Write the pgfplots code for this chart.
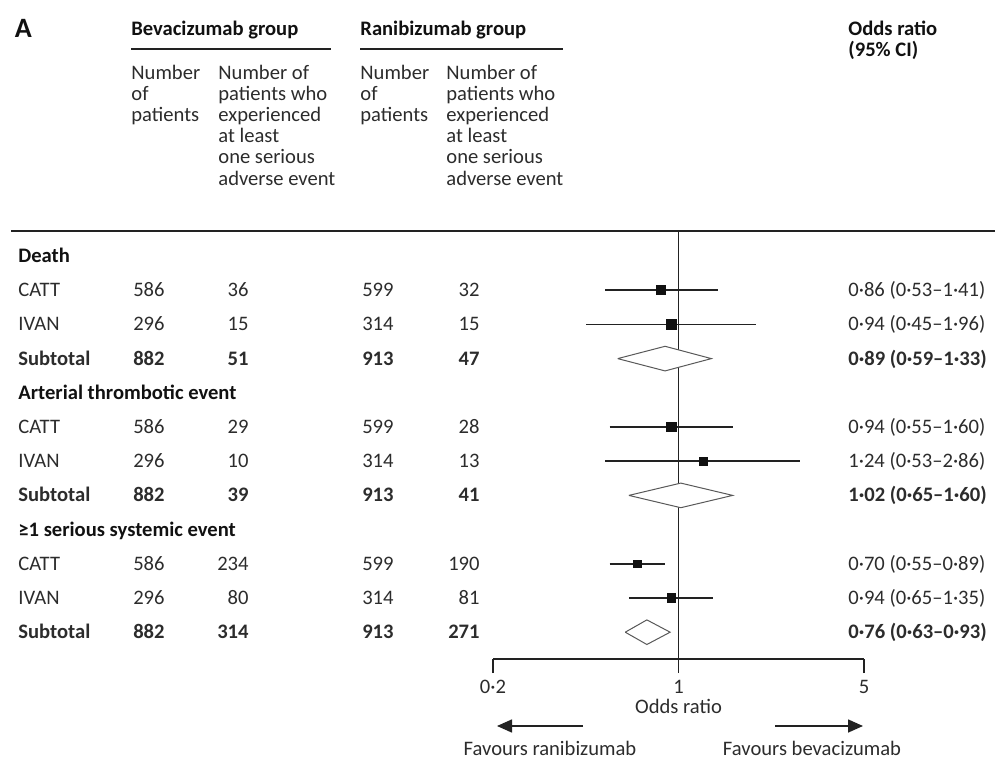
\documentclass[border=0pt]{standalone}
\usepackage{fontspec}
\setmainfont{Carlito}
\usepackage{pgfplots}
\usepackage{pgfplotstable}
\pgfplotsset{compat=1.18}
\usetikzlibrary{arrows.meta}
\definecolor{txt}{HTML}{2C2C2C}
\definecolor{bld}{HTML}{111111}
\definecolor{rule}{HTML}{222222}

% point estimates: or, lower, upper, row (y), half side of square (pt)
\pgfplotstableread{
or   lo   hi   y    s
0.86 0.53 1.41 -1   2.3
0.94 0.45 1.96 -2   2.3
0.94 0.55 1.60 -5   2.3
1.24 0.53 2.86 -6   2.0
0.70 0.55 0.89 -9   1.9
0.94 0.65 1.35 -10  2.1
}\studies

\begin{document}
\fontsize{10.3}{12}\selectfont
\begin{tikzpicture}
\begin{scope}[x=0.5pt,y=-0.5pt]
\useasboundingbox (0,0) rectangle (997,760);
% ---- header
\node[anchor=base west,inner sep=0,font=\fontsize{14}{16}\selectfont\bfseries,text=bld] at (14.5,37) {A};
\node[anchor=base west,inner sep=0,font=\bfseries,text=bld] at (131,35) {Bevacizumab group};
\node[anchor=base west,inner sep=0,font=\bfseries,text=bld] at (360,35) {Ranibizumab group};
\node[anchor=base west,inner sep=0,font=\bfseries,text=bld] at (848,35) {Odds ratio};
\node[anchor=base west,inner sep=0,font=\bfseries,text=bld] at (848,56.5) {(95\% CI)};
\draw[rule,line width=0.75pt] (131,49) -- (331,49);
\draw[rule,line width=0.75pt] (360,49) -- (563,49);
\foreach \t [count=\i from 0] in {Number,of,patients}{
  \node[anchor=base west,inner sep=0,text=txt] at (131,79+21.2*\i) {\t};
  \node[anchor=base west,inner sep=0,text=txt] at (360,79+21.2*\i) {\t};
}
\foreach \t [count=\i from 0] in {Number of,patients who,experienced,at least,one serious,adverse event}{
  \node[anchor=base west,inner sep=0,text=txt] at (218,79+21.2*\i) {\t};
  \node[anchor=base west,inner sep=0,text=txt] at (446,79+21.2*\i) {\t};
}
\draw[rule,line width=1pt] (11,231) -- (995,231);
% ---- rows
\foreach \k/\lab/\a/\b/\c/\d/\ci/\f in {
 1/CATT/586/36/599/32/{0·86 (0·53–1·41)}/\mdseries,
 2/IVAN/296/15/314/15/{0·94 (0·45–1·96)}/\mdseries,
 3/Subtotal/882/51/913/47/{0·89 (0·59–1·33)}/\bfseries,
 5/CATT/586/29/599/28/{0·94 (0·55–1·60)}/\mdseries,
 6/IVAN/296/10/314/13/{1·24 (0·53–2·86)}/\mdseries,
 7/Subtotal/882/39/913/41/{1·02 (0·65–1·60)}/\bfseries,
 9/CATT/586/234/599/190/{0·70 (0·55–0·89)}/\mdseries,
 10/IVAN/296/80/314/81/{0·94 (0·65–1·35)}/\mdseries,
 11/Subtotal/882/314/913/271/{0·76 (0·63–0·93)}/\bfseries}{
  \pgfmathsetmacro{\yy}{256+34.2*\k+6.5}
  \node[anchor=base west,inner sep=0,text=txt,font=\f] at (18,\yy) {\lab};
  \node[anchor=base east,inner sep=0,text=txt,font=\f] at (165,\yy) {\a};
  \node[anchor=base east,inner sep=0,text=txt,font=\f] at (249,\yy) {\b};
  \node[anchor=base east,inner sep=0,text=txt,font=\f] at (394,\yy) {\c};
  \node[anchor=base east,inner sep=0,text=txt,font=\f] at (480,\yy) {\d};
  \node[anchor=base west,inner sep=0,text=txt,font=\f] at (848,\yy) {\ci};
}
\node[anchor=base west,inner sep=0,font=\bfseries,text=bld] at (18,262.5) {Death};
\node[anchor=base west,inner sep=0,font=\bfseries,text=bld] at (18,399.3) {Arterial thrombotic event};
\node[anchor=base west,inner sep=0,font=\bfseries,text=bld] at (18,536.1) {≥1 serious systemic event};
% ---- direction arrows
\draw[rule,line width=0.8pt,-{Triangle[length=7.5pt,width=6.5pt]}] (583,726) -- (497,726);
\draw[rule,line width=0.8pt,-{Triangle[length=7.5pt,width=6.5pt]}] (775,726) -- (863,726);
\node[anchor=base,inner sep=0,text=txt] at (550,755) {Favours ranibizumab};
\node[anchor=base,inner sep=0,text=txt] at (812,755) {Favours bevacizumab};
\end{scope}
\begin{axis}[
  at={(246.5pt,-329.5pt)}, anchor=south west,
  scale only axis, width=185.5pt, height=213.5pt,
  xmode=log, xmin=0.2, xmax=5,
  ymin=-11.784, ymax=0.702,
  axis x line*=bottom, axis y line=none,
  axis line style={rule,line width=0.75pt},
  xtick={0.2,1,5}, xticklabels={0·2,1,5}, minor xtick={},
  tick align=outside, major tick length=7pt,
  tick style={rule,line width=0.75pt},
  xticklabel style={text=txt},
  /pgf/number format/assume math mode=true,
  xlabel={Odds ratio},
  xlabel style={text=txt, at={(axis description cs:0.5,0)}, anchor=center, yshift=-23.5pt},
  clip=false,
]
% reference line at OR = 1
\addplot[rule,line width=0.8pt] coordinates {(1,0.702) (1,-11.784)};
% confidence intervals
\addplot[rule,line width=0.75pt,unbounded coords=jump] coordinates {
 (0.53,-1) (1.41,-1) (nan,nan)
 (0.45,-2) (1.96,-2) (nan,nan)
 (0.55,-5) (1.60,-5) (nan,nan)
 (0.53,-6) (2.86,-6) (nan,nan)
 (0.55,-9) (0.89,-9) (nan,nan)
 (0.65,-10) (1.35,-10)};
% study estimates
\addplot[scatter, only marks, mark=square*,
  scatter/use mapped color={draw=bld,fill=bld},
  visualization depends on={\thisrow{s} \as \ms},
  scatter/@pre marker code/.append style={/tikz/mark size=\ms pt}]
  table[x=or,y=y] {\studies};
% pooled estimates
\addplot[gray!70!black,line width=0.5pt,fill=white,line join=miter] coordinates {(0.59,-3) (0.89,-2.64) (1.33,-3) (0.89,-3.36) (0.59,-3)};
\addplot[gray!70!black,line width=0.5pt,fill=white,line join=miter] coordinates {(0.65,-7) (1.02,-6.64) (1.60,-7) (1.02,-7.36) (0.65,-7)};
\addplot[gray!70!black,line width=0.5pt,fill=white,line join=miter] coordinates {(0.63,-11) (0.76,-10.64) (0.93,-11) (0.76,-11.36) (0.63,-11)};
\end{axis}
\end{tikzpicture}
\end{document}
